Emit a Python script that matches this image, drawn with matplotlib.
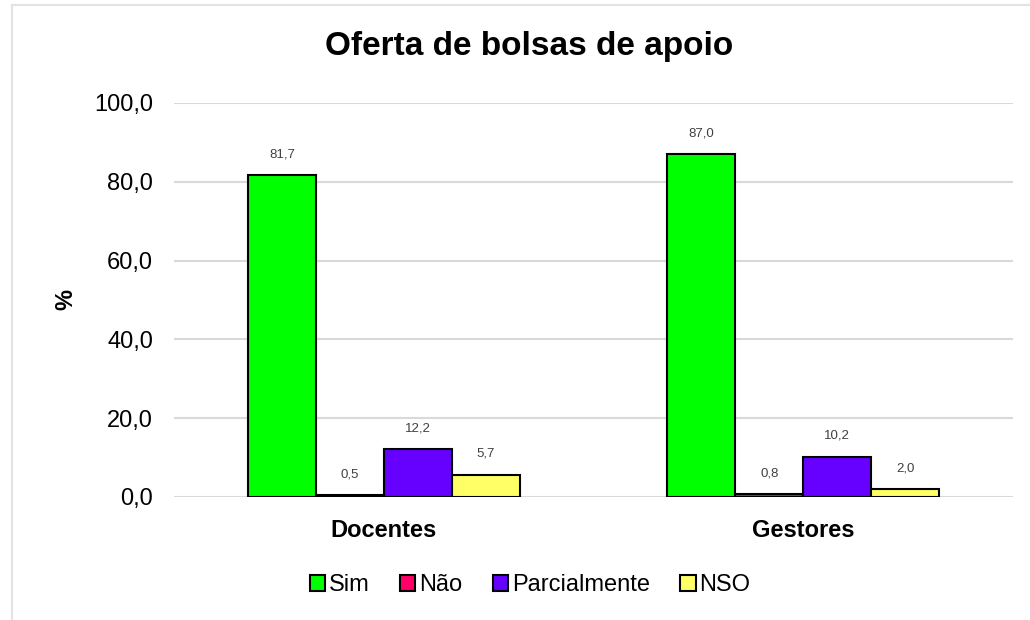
import numpy as np
import matplotlib.pyplot as plt
from matplotlib.lines import Line2D

plt.rcParams['font.family'] = ['Liberation Sans', 'DejaVu Sans']

# Data
groups = ["Docentes", "Gestores"]
series = ["Sim", "Não", "Parcialmente", "NSO"]
values = {
    "Sim": [81.7, 87.0],
    "Não": [0.5, 0.8],
    "Parcialmente": [12.2, 10.2],
    "NSO": [5.7, 2.0],
}
colors = ["#00ff00", "#ff0066", "#6600ff", "#ffff66"]
yticks = [0, 20, 40, 60, 80, 100]

fig = plt.figure(figsize=(10.3, 6.2), dpi=100)
ax = fig.add_axes([0.169, 0.1984, 0.8145, 0.6355])

x = np.arange(len(groups))
w = 0.162
for i, (name, c) in enumerate(zip(series, colors)):
    pos = x + (i - 1.5) * w
    bars = ax.bar(pos, values[name], w, color=c, edgecolor='black', linewidth=1.5,
                  label=name, zorder=3)
    for b, v in zip(bars, values[name]):
        ax.annotate(f"{v:.1f}".replace('.', ','), (b.get_x() + b.get_width() / 2, v),
                    xytext=(0, 15), textcoords='offset points', ha='center', va='center',
                    fontsize=9.5, color='#404040')

ax.set_xlim(-0.5, 1.5)
ax.set_ylim(0, 100)
ax.set_yticks(yticks)
ax.set_yticklabels([f"{t:.1f}".replace('.', ',') for t in yticks], fontsize=17)
ax.set_xticks(x)
ax.set_xticklabels(groups, fontsize=17, fontweight='bold')
ax.tick_params(axis='both', length=0)
ax.tick_params(axis='y', pad=15)
ax.tick_params(axis='x', pad=16)
ax.grid(axis='y', color='#d9d9d9', linewidth=1.5, zorder=0)
ax.set_axisbelow(True)
for s in ax.spines.values():
    s.set_visible(False)

ax.set_ylabel('%', fontsize=17, fontweight='bold')
ax.yaxis.set_label_coords(-0.115, 0.5)

fig.text(529 / 1030, 1 - 47 / 620, 'Oferta de bolsas de apoio', ha='center', va='center',
         fontsize=24, fontweight='bold')

fig.legend(loc='center', bbox_to_anchor=(530 / 1030, 1 - 585 / 620), ncol=4, frameon=False,
           fontsize=17, handlelength=0.65, handleheight=0.65, handletextpad=0.15,
           columnspacing=1.3)

# outer chart border (left and top edges)
fig.add_artist(Line2D([12 / 1030, 12 / 1030], [0, 1 - 5 / 620], color='#e3e3e3', lw=1.5,
                      transform=fig.transFigure))
fig.add_artist(Line2D([12 / 1030, 1], [1 - 5 / 620, 1 - 5 / 620], color='#e3e3e3', lw=1.5,
                      transform=fig.transFigure))

fig.savefig('out.png', dpi=100)
